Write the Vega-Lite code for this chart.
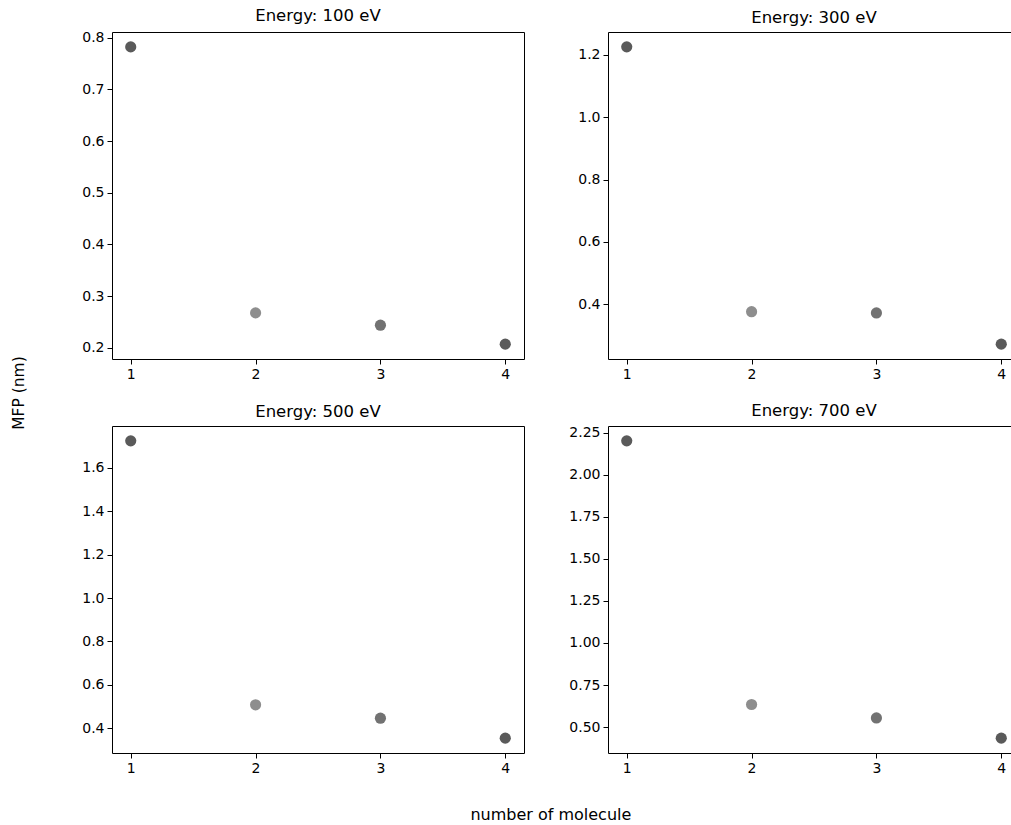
{
  "$schema": "https://vega.github.io/schema/vega-lite/v6.json",
  "padding": {"left": 11, "top": 7, "right": 0, "bottom": 5},
  "background": "#ffffff",
  "config": {
    "font": "DejaVu Sans",
    "view": {"stroke": "#000000", "strokeWidth": 1},
    "axis": {"grid": false, "domain": false, "tickColor": "#000000", "tickSize": 5, "tickWidth": 1, "labelColor": "#000000", "labelFont": "DejaVu Sans", "labelFontSize": 14, "labelPadding": 3},
    "title": {"font": "DejaVu Sans", "fontSize": 16.5, "fontWeight": "normal", "color": "#000000", "offset": 6},
    "legend": {"disable": true}
  },
  "title": {"text": "MFP (nm)", "orient": "left", "anchor": "middle", "fontSize": 15.5, "offset": 54, "dx": 22},
  "datasets": {
    "mfp": [
      {"energy": 100, "molecule": 1, "mfp": 0.782},
      {"energy": 100, "molecule": 2, "mfp": 0.2676},
      {"energy": 100, "molecule": 3, "mfp": 0.2438},
      {"energy": 100, "molecule": 4, "mfp": 0.2071},
      {"energy": 300, "molecule": 1, "mfp": 1.2256},
      {"energy": 300, "molecule": 2, "mfp": 0.376},
      {"energy": 300, "molecule": 3, "mfp": 0.372},
      {"energy": 300, "molecule": 4, "mfp": 0.272},
      {"energy": 500, "molecule": 1, "mfp": 1.725},
      {"energy": 500, "molecule": 2, "mfp": 0.5077},
      {"energy": 500, "molecule": 3, "mfp": 0.446},
      {"energy": 500, "molecule": 4, "mfp": 0.354},
      {"energy": 700, "molecule": 1, "mfp": 2.202},
      {"energy": 700, "molecule": 2, "mfp": 0.634},
      {"energy": 700, "molecule": 3, "mfp": 0.554},
      {"energy": 700, "molecule": 4, "mfp": 0.434}
    ]
  },
  "vconcat": [
    {
      "title": {"text": "number of molecule", "orient": "bottom", "anchor": "middle", "fontSize": 16, "offset": 31},
      "spacing": 20,
      "vconcat": [
        {
          "spacing": 84,
          "bounds": "flush",
          "hconcat": [
            {
              "title": "Energy: 100 eV",
              "width": 412, "height": 327,
              "data": {"name": "mfp"},
              "transform": [{"filter": "datum.energy == 100"}],
              "mark": {"type": "circle", "size": 125, "opacity": 1},
              "encoding": {
                "x": {"field": "molecule", "type": "quantitative", "scale": {"domain": [0.85, 4.15], "nice": false, "zero": false}, "axis": {"values": [1, 2, 3, 4], "format": "d", "title": null}},
                "y": {"field": "mfp", "type": "quantitative", "scale": {"domain": [0.1784, 0.8108], "nice": false, "zero": false}, "axis": {"values": [0.2, 0.3, 0.4, 0.5, 0.6, 0.7, 0.8], "format": ".1f", "title": null}},
                "color": {"field": "molecule", "type": "nominal", "scale": {"domain": [1, 2, 3, 4], "range": ["#5a5a5a", "#8e8e8e", "#727272", "#5a5a5a"]}, "legend": null}
              }
            },
            {
              "title": "Energy: 300 eV",
              "width": 412, "height": 327,
              "data": {"name": "mfp"},
              "transform": [{"filter": "datum.energy == 300"}],
              "mark": {"type": "circle", "size": 125, "opacity": 1},
              "encoding": {
                "x": {"field": "molecule", "type": "quantitative", "scale": {"domain": [0.85, 4.15], "nice": false, "zero": false}, "axis": {"values": [1, 2, 3, 4], "format": "d", "title": null}},
                "y": {"field": "mfp", "type": "quantitative", "scale": {"domain": [0.2243, 1.2733], "nice": false, "zero": false}, "axis": {"values": [0.4, 0.6, 0.8, 1.0, 1.2], "format": ".1f", "title": null}},
                "color": {"field": "molecule", "type": "nominal", "scale": {"domain": [1, 2, 3, 4], "range": ["#5a5a5a", "#8e8e8e", "#727272", "#5a5a5a"]}, "legend": null}
              }
            }
          ]
        },
        {
          "spacing": 84,
          "bounds": "flush",
          "hconcat": [
            {
              "title": "Energy: 500 eV",
              "width": 412, "height": 327,
              "data": {"name": "mfp"},
              "transform": [{"filter": "datum.energy == 500"}],
              "mark": {"type": "circle", "size": 125, "opacity": 1},
              "encoding": {
                "x": {"field": "molecule", "type": "quantitative", "scale": {"domain": [0.85, 4.15], "nice": false, "zero": false}, "axis": {"values": [1, 2, 3, 4], "format": "d", "title": null}},
                "y": {"field": "mfp", "type": "quantitative", "scale": {"domain": [0.2854, 1.7936], "nice": false, "zero": false}, "axis": {"values": [0.4, 0.6, 0.8, 1.0, 1.2, 1.4, 1.6], "format": ".1f", "title": null}},
                "color": {"field": "molecule", "type": "nominal", "scale": {"domain": [1, 2, 3, 4], "range": ["#5a5a5a", "#8e8e8e", "#727272", "#5a5a5a"]}, "legend": null}
              }
            },
            {
              "title": "Energy: 700 eV",
              "width": 412, "height": 327,
              "data": {"name": "mfp"},
              "transform": [{"filter": "datum.energy == 700"}],
              "mark": {"type": "circle", "size": 125, "opacity": 1},
              "encoding": {
                "x": {"field": "molecule", "type": "quantitative", "scale": {"domain": [0.85, 4.15], "nice": false, "zero": false}, "axis": {"values": [1, 2, 3, 4], "format": "d", "title": null}},
                "y": {"field": "mfp", "type": "quantitative", "scale": {"domain": [0.3456, 2.2904], "nice": false, "zero": false}, "axis": {"values": [0.5, 0.75, 1.0, 1.25, 1.5, 1.75, 2.0, 2.25], "format": ".2f", "title": null}},
                "color": {"field": "molecule", "type": "nominal", "scale": {"domain": [1, 2, 3, 4], "range": ["#5a5a5a", "#8e8e8e", "#727272", "#5a5a5a"]}, "legend": null}
              }
            }
          ]
        }
      ]
    }
  ]
}
